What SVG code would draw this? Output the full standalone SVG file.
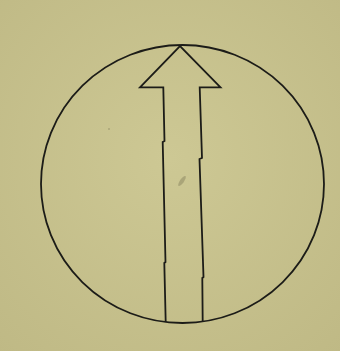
<svg xmlns="http://www.w3.org/2000/svg" width="340" height="351" viewBox="0 0 340 351">
<style>
.ln{fill:none;stroke:#1c1c18;stroke-width:1.8;stroke-linejoin:miter}
</style>
<defs>
<radialGradient id="bg" cx="0.5" cy="0.45" r="0.75">
<stop offset="0" stop-color="#cdc894"/>
<stop offset="1" stop-color="#bfb985"/>
</radialGradient>
</defs>
<rect width="340" height="351" fill="url(#bg)"/>
<g id="circle">
<ellipse class="ln" cx="182.5" cy="184" rx="141.5" ry="139"/>
</g>
<g id="arrow">
<polyline class="ln" points="165.7,322 164.3,263 165.5,262 162.7,142 164.5,141 163.3,87.3 140,87.3 180,46 220.5,87.3 199.7,87.3 202,158 199.5,159 203.5,277 202.3,278 202.7,322"/>
</g>
<g id="marks" fill="#8a8560" opacity="0.5">
<ellipse cx="182" cy="181" rx="2" ry="6" transform="rotate(35 182 181)"/>
<circle cx="109" cy="129" r="1"/>
</g>
</svg>
